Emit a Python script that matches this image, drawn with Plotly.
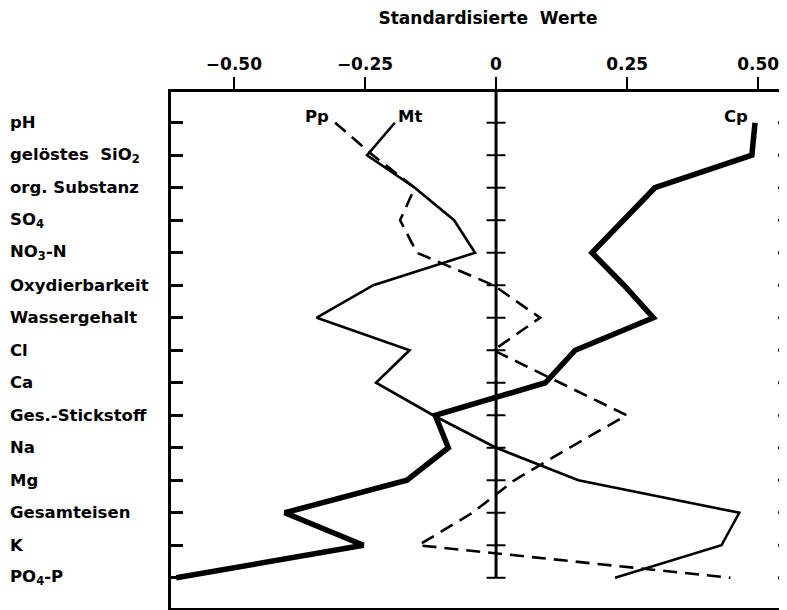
import plotly.graph_objects as go

categories = ["pH", "gelöstes  SiO<sub>2</sub>", "org. Substanz", "SO<sub>4</sub>", "NO<sub>3</sub>-N",
              "Oxydierbarkeit", "Wassergehalt", "Cl", "Ca", "Ges.-Stickstoff", "Na", "Mg",
              "Gesamteisen", "K", "PO<sub>4</sub>-P"]
cp_values = [0.494, 0.488, 0.303, 0.242, 0.183, 0.244, 0.300, 0.151, 0.094, -0.116,
             -0.091, -0.170, -0.403, -0.253, -0.610]
mt_values = [-0.193, -0.246, -0.155, -0.080, -0.040, -0.234, -0.342, -0.165, -0.229, -0.120,
             0.000, 0.157, 0.464, 0.430, 0.227]
pp_values = [-0.307, -0.235, -0.155, -0.183, -0.151, -0.005, 0.084, -0.005, 0.122, 0.249,
             0.140, 0.035, -0.045, -0.148, 0.447]
x_tick_vals = [-0.5, -0.25, 0, 0.25, 0.5]
x_tick_text = ["\u22120.50", "\u22120.25", "0", "0.25", "0.50"]
series_names = ["Cp", "Mt", "Pp"]

FONT = "DejaVu Sans"
rows = list(range(len(categories)))
X_RANGE = [-0.620, 0.555]
Y_RANGE = [14.93, -0.945]

fig = go.Figure()
fig.add_trace(go.Scatter(x=cp_values, y=rows, mode="lines", name=series_names[0],
                         line=dict(color="black", width=5.5)))
fig.add_trace(go.Scatter(x=mt_values, y=rows, mode="lines", name=series_names[1],
                         line=dict(color="black", width=2.6)))
fig.add_trace(go.Scatter(x=pp_values, y=rows, mode="lines", name=series_names[2],
                         line=dict(color="black", width=2.6, dash="14px,8px")))

shapes = []
# zero reference line with cross ticks
shapes.append(dict(type="line", xref="x", yref="y", x0=0, x1=0, y0=Y_RANGE[1], y1=rows[-1],
                   line=dict(color="black", width=3)))
for r in rows:
    shapes.append(dict(type="line", xref="x", yref="y", x0=-0.018, x1=0.018, y0=r, y1=r,
                       line=dict(color="black", width=2)))
    shapes.append(dict(type="line", xref="x", yref="y", x0=0.538, x1=0.56, y0=r, y1=r,
                       line=dict(color="black", width=3)))

lab_font = dict(family=FONT, size=16.5, color="black", weight="bold")
annotations = []
for r, lab in zip(rows, categories):
    annotations.append(dict(x=-0.265, xref="paper", y=r, yref="y", text=lab, showarrow=False,
                            xanchor="left", yanchor="middle", font=lab_font))
# series labels at the top of each line
annotations.append(dict(x=pp_values[0] - 0.008, y=rows[0], xref="x", yref="y", text=series_names[2],
                        showarrow=False, xanchor="right", yanchor="middle", yshift=6, font=lab_font))
annotations.append(dict(x=mt_values[0] + 0.002, y=rows[0], xref="x", yref="y", text=series_names[1],
                        showarrow=False, xanchor="left", yanchor="middle", yshift=6, font=lab_font))
annotations.append(dict(x=cp_values[0] - 0.01, y=rows[0], xref="x", yref="y", text=series_names[0],
                        showarrow=False, xanchor="right", yanchor="middle", yshift=6, font=lab_font))

fig.update_layout(
    width=779, height=602,
    margin=dict(l=163, r=0, t=84, b=2, pad=0),
    paper_bgcolor="white", plot_bgcolor="white",
    showlegend=False,
    title=dict(text="Standardisierte\u00a0\u00a0Werte", x=(488 - 8) / 779, xanchor="center",
               y=1 - 10 / 602, yanchor="middle",
               font=dict(family=FONT, size=17, color="black", weight="bold")),
    shapes=shapes, annotations=annotations,
)
fig.update_xaxes(range=X_RANGE, side="top", showgrid=False, zeroline=False,
                 showline=True, linecolor="black", linewidth=3, mirror=True,
                 ticks="outside", ticklen=12, tickwidth=2, tickcolor="black",
                 tickvals=x_tick_vals, ticktext=x_tick_text,
                 tickfont=dict(family=FONT, size=17, color="black", weight="bold"))
fig.update_yaxes(range=Y_RANGE, showgrid=False, zeroline=False,
                 showline=True, linecolor="black", linewidth=3,
                 ticks="inside", ticklen=12, tickwidth=2.5, tickcolor="black",
                 tickvals=rows, showticklabels=False)

fig.write_html("out.html")
